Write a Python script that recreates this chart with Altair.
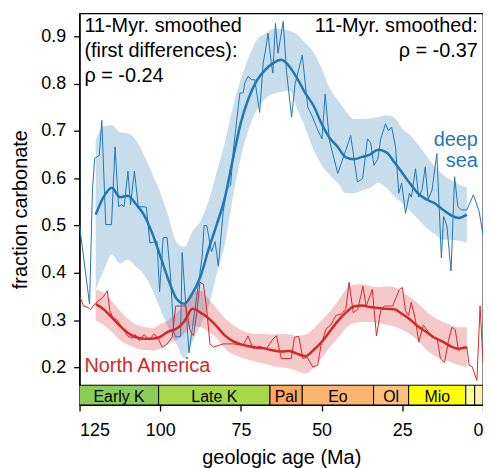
import altair as alt
import pandas as pd

# ---------------- data ----------------
# deep sea raw series (age Ma, fraction carbonate)
ds_age = [125.0, 121.9, 121.0, 120.3, 118.9, 118.1, 116.9, 115.1, 114.0, 112.9, 112.0, 111.2,
          110.0, 109.2, 108.0, 106.8, 104.3, 103.2, 101.0, 100.2, 99.1, 97.9, 96.9, 95.8, 95.3,
          93.7, 93.2, 91.1, 89.1, 87.0, 86.4, 85.6, 84.1, 83.0, 82.0, 80.5, 79.4, 78.2, 77.4,
          75.8, 75.3, 74.3, 73.8, 72.8, 71.7, 70.7, 69.2, 68.1, 67.1, 66.6, 65.6, 65.1, 64.3,
          63.5, 61.9, 60.9, 59.3, 58.2, 56.0, 54.3, 53.0, 51.1, 49.9, 48.9, 47.6, 45.0, 42.5,
          41.0, 38.9, 37.3, 35.8, 34.8, 33.8, 32.6, 31.7, 30.2, 29.3, 28.3, 27.1, 26.1, 25.2,
          24.0, 22.8, 22.2, 20.9, 19.9, 18.9, 17.9, 17.0, 15.8, 14.3, 12.9, 12.2, 11.2, 9.9,
          8.8, 7.8, 6.6, 5.0, 3.0, 1.2, 0.0]
ds_val = [0.50, 0.334, 0.575, 0.642, 0.648, 0.722, 0.502, 0.502, 0.666, 0.540, 0.544, 0.540,
          0.615, 0.544, 0.615, 0.540, 0.539, 0.463, 0.467, 0.360, 0.474, 0.475, 0.400, 0.275, 0.265,
          0.265, 0.443, 0.231, 0.330, 0.435, 0.500, 0.500, 0.445, 0.466, 0.414, 0.529, 0.578, 0.585, 0.655,
          0.753, 0.780, 0.780, 0.801, 0.815, 0.808, 0.808, 0.739, 0.843, 0.882, 0.906, 0.843, 0.822, 0.927,
          0.864, 0.931, 0.827, 0.729, 0.800, 0.860, 0.750, 0.732, 0.700, 0.683, 0.778, 0.680, 0.610, 0.659,
          0.690, 0.592, 0.599, 0.683, 0.675, 0.627, 0.640, 0.683, 0.715, 0.700, 0.708, 0.666, 0.568, 0.590,
          0.526, 0.568, 0.560, 0.620, 0.560, 0.575, 0.624, 0.555, 0.575, 0.652, 0.432, 0.519, 0.500, 0.404,
          0.603, 0.540, 0.533, 0.533, 0.565, 0.530, 0.480]

# North America raw series
na_age = [125.0, 124.5, 123.8, 122.4, 121.6, 120.4, 117.8, 116.4, 115.6, 114.7, 113.3, 111.7,
          110.1, 108.7, 107.8, 106.5, 105.0, 103.4, 101.9, 100.7, 99.4, 97.9, 96.3, 95.2, 93.7,
          92.1, 90.7, 89.7, 88.7, 87.7, 86.6, 85.6, 84.6, 83.5, 80.5, 77.3, 74.3, 72.8, 71.2,
          69.3, 67.1, 65.1, 64.0, 62.5, 59.4, 58.4, 57.1, 55.8, 54.5, 52.7, 51.2, 50.2, 48.6,
          47.1, 45.6, 44.0, 42.5, 41.5, 40.2, 38.8, 37.2, 36.2, 34.3, 33.0, 31.7, 30.6, 29.6,
          28.0, 25.9, 25.0, 24.0, 23.1, 22.2, 20.9, 19.9, 18.5, 16.9, 15.3, 14.2, 13.2, 11.9,
          10.7, 9.6, 8.6, 7.6, 6.8, 6.1, 5.0, 4.3, 3.3, 1.9, 0.9, 0.0]
na_val = [0.345, 0.344, 0.330, 0.327, 0.322, 0.334, 0.348, 0.362, 0.320, 0.306, 0.300, 0.282,
          0.267, 0.262, 0.270, 0.257, 0.270, 0.258, 0.271, 0.262, 0.243, 0.250, 0.264, 0.330, 0.330,
          0.330, 0.277, 0.267, 0.316, 0.380, 0.376, 0.323, 0.250, 0.243, 0.250, 0.250, 0.247, 0.267, 0.240,
          0.245, 0.240, 0.260, 0.267, 0.219, 0.219, 0.264, 0.266, 0.219, 0.222, 0.201, 0.205, 0.247, 0.282,
          0.290, 0.310, 0.313, 0.323, 0.380, 0.316, 0.323, 0.372, 0.330, 0.365, 0.267, 0.320, 0.330, 0.330,
          0.330, 0.365, 0.369, 0.320, 0.310, 0.338, 0.300, 0.254, 0.290, 0.275, 0.264, 0.262, 0.219, 0.211,
          0.257, 0.285, 0.280, 0.236, 0.240, 0.243, 0.243, 0.205, 0.201, 0.173, 0.330, 0.210]

# 11-Myr smoothed series and bands (common age grid)
sm_age = [120, 117.5, 115, 112.5, 110, 107.5, 105, 102.5, 100, 97.5, 95, 92.5, 90, 87.5, 85,
          82.5, 80, 77.5, 75, 72.5, 70, 67.5, 65, 62.5, 60, 57.5, 55, 52.5, 50, 47.5, 45, 42.5,
          40, 37.5, 35, 32.5, 30, 27.5, 25, 22.5, 20, 17.5, 15, 12.5, 10, 7.5, 5]
ds_smooth = [0.523, 0.561, 0.580, 0.560, 0.563, 0.545, 0.522, 0.484, 0.436, 0.386, 0.346, 0.335,
             0.357, 0.393, 0.450, 0.502, 0.558, 0.640, 0.718, 0.771, 0.807, 0.829, 0.843, 0.850,
             0.836, 0.810, 0.779, 0.753, 0.715, 0.685, 0.666, 0.644, 0.640, 0.645, 0.650, 0.660,
             0.655, 0.634, 0.611, 0.588, 0.567, 0.555, 0.547, 0.534, 0.522, 0.516, 0.523]
ds_hi = [0.680, 0.710, 0.712, 0.697, 0.695, 0.680, 0.648, 0.610, 0.570, 0.520, 0.466, 0.455,
         0.488, 0.510, 0.553, 0.613, 0.675, 0.750, 0.810, 0.857, 0.893, 0.905, 0.915, 0.915,
         0.912, 0.903, 0.885, 0.866, 0.832, 0.790, 0.765, 0.742, 0.725, 0.725, 0.726, 0.729,
         0.733, 0.728, 0.705, 0.690, 0.670, 0.647, 0.625, 0.608, 0.596, 0.587, 0.580]
ds_lo = [0.365, 0.405, 0.439, 0.420, 0.428, 0.413, 0.396, 0.365, 0.323, 0.284, 0.250, 0.220,
         0.255, 0.290, 0.330, 0.398, 0.460, 0.560, 0.645, 0.705, 0.745, 0.768, 0.778, 0.782,
         0.785, 0.745, 0.705, 0.660, 0.628, 0.607, 0.590, 0.568, 0.568, 0.574, 0.580, 0.590,
         0.580, 0.562, 0.547, 0.530, 0.513, 0.495, 0.482, 0.470, 0.470, 0.468, 0.463]
na_smooth = [0.334, 0.323, 0.306, 0.288, 0.273, 0.264, 0.261, 0.261, 0.265, 0.276, 0.282, 0.298,
             0.324, 0.316, 0.304, 0.287, 0.268, 0.256, 0.249, 0.245, 0.242, 0.240, 0.236, 0.234,
             0.235, 0.229, 0.224, 0.237, 0.254, 0.276, 0.298, 0.316, 0.329, 0.331, 0.328, 0.326,
             0.324, 0.323, 0.313, 0.301, 0.286, 0.275, 0.263, 0.255, 0.245, 0.240, 0.243]
na_hi = [0.365, 0.358, 0.340, 0.320, 0.303, 0.291, 0.286, 0.283, 0.292, 0.300, 0.315, 0.335,
         0.360, 0.362, 0.345, 0.325, 0.305, 0.290, 0.280, 0.273, 0.271, 0.271, 0.270, 0.271,
         0.270, 0.267, 0.270, 0.282, 0.300, 0.318, 0.340, 0.365, 0.375, 0.376, 0.372, 0.370,
         0.372, 0.370, 0.360, 0.348, 0.335, 0.318, 0.305, 0.297, 0.290, 0.285, 0.285]
na_lo = [0.300, 0.290, 0.275, 0.258, 0.248, 0.241, 0.237, 0.236, 0.240, 0.250, 0.258, 0.272,
         0.288, 0.285, 0.275, 0.262, 0.240, 0.228, 0.222, 0.216, 0.212, 0.208, 0.203, 0.200,
         0.198, 0.192, 0.187, 0.200, 0.220, 0.243, 0.262, 0.283, 0.294, 0.296, 0.296, 0.294,
         0.290, 0.287, 0.280, 0.270, 0.256, 0.237, 0.225, 0.217, 0.212, 0.205, 0.201]

# geologic time scale
geo_name = ["Early K", "Late K", "Pal", "Eo", "Ol", "Mio", "", ""]
geo_start = [145.0, 100.5, 66.0, 56.0, 33.9, 23.03, 5.33, 2.58]
geo_end = [100.5, 66.0, 56.0, 33.9, 23.03, 5.33, 2.58, 0.0]
geo_color = ["#8CCD57", "#A6D84A", "#FDA75F", "#FDB46C", "#FDC07A", "#FFFF00", "#FFFF99", "#FFF2AE"]
geo_label_age = [112.75, 83.25, 61.0, 44.95, 28.47, 14.18, None, None]

# ---------------- frames ----------------
ds_raw = pd.DataFrame({"age": ds_age, "v": ds_val})
na_raw = pd.DataFrame({"age": na_age, "v": na_val})
sm = pd.DataFrame({"age": sm_age, "ds": ds_smooth, "ds_hi": ds_hi, "ds_lo": ds_lo,
                   "na": na_smooth, "na_hi": na_hi, "na_lo": na_lo})
geo = pd.DataFrame({"name": geo_name, "start": geo_start, "end": geo_end, "color": geo_color,
                    "lab": geo_label_age})

BLUE = "#1f77b4"
RED = "#d62728"
FONT = "Liberation Sans"
YMIN, YMAX = 0.121, 0.948
BAR_TOP = 0.1627

xs = alt.Scale(domain=[125, 0], nice=False, zero=False)
ys = alt.Scale(domain=[YMIN, YMAX], nice=False, zero=False)
XAX = alt.Axis(values=[125, 100, 75, 50, 25, 0], title="geologic age (Ma)", format="d")
YAX = alt.Axis(values=[0.2, 0.3, 0.4, 0.5, 0.6, 0.7, 0.8, 0.9], title="fraction carbonate",
               format=".1f")


def X(field):
    return alt.X(field, scale=xs, axis=XAX)


def Y(field):
    return alt.Y(field, scale=ys, axis=YAX)


base_sm = alt.Chart(sm)

ds_band = base_sm.mark_area(color=BLUE, opacity=0.25, interpolate="monotone").encode(
    x=X("age:Q"), y=Y("ds_lo:Q"), y2="ds_hi:Q")
na_band = base_sm.mark_area(color=RED, opacity=0.25, interpolate="monotone").encode(
    x=X("age:Q"), y=Y("na_lo:Q"), y2="na_hi:Q")

ds_line = alt.Chart(ds_raw).mark_line(color=BLUE, strokeWidth=1).encode(x=X("age:Q"), y=Y("v:Q"))
na_line = alt.Chart(na_raw).mark_line(color=RED, strokeWidth=1).encode(x=X("age:Q"), y=Y("v:Q"))

ds_sm = base_sm.mark_line(color=BLUE, strokeWidth=2.5, interpolate="monotone").encode(
    x=X("age:Q"), y=Y("ds:Q"))
na_sm = base_sm.mark_line(color=RED, strokeWidth=2.5, interpolate="monotone").encode(
    x=X("age:Q"), y=Y("na:Q"))

geo_rect = alt.Chart(geo).mark_rect(stroke="black", strokeWidth=1, clip=True).encode(
    x=X("start:Q"), x2="end:Q",
    y=alt.datum(YMIN, scale=ys, axis=YAX), y2=alt.datum(BAR_TOP),
    color=alt.Color("color:N", scale=None))
geo_text = alt.Chart(geo).transform_filter("datum.lab != null").mark_text(
    font=FONT, fontSize=16, color="black", baseline="middle", dy=2).encode(
    x=X("lab:Q"),
    y=alt.datum((YMIN + BAR_TOP) / 2, scale=ys, axis=YAX),
    text="name:N")


def label(txt, age, val, color="black", align="left"):
    return alt.Chart(pd.DataFrame({"t": [txt]})).mark_text(
        font=FONT, fontSize=20, color=color, align=align, baseline="alphabetic").encode(
        x=alt.datum(age, scale=xs, axis=XAX), y=alt.datum(val, scale=ys, axis=YAX), text="t:N")


labels = [
    label("11-Myr. smoothed", 123.5, 0.909),
    label("(first differences):", 123.5, 0.857),
    label("ρ = -0.24", 123.5, 0.803),
    label("11-Myr. smoothed:", 1.6, 0.909, align="right"),
    label("ρ = -0.37", 1.6, 0.856, align="right"),
    label("deep", 1.6, 0.6675, color=BLUE, align="right"),
    label("sea", 1.6, 0.6234, color=BLUE, align="right"),
    label("North America", 123.5, 0.1896, color=RED),
]

chart = alt.layer(ds_band, na_band, ds_line, na_line, ds_sm, na_sm, geo_rect, geo_text,
                  *labels).properties(
    width=406, height=394, autosize="none",
    padding={"left": 72, "top": 4, "right": 0, "bottom": 70},
).configure_view(stroke="black", strokeWidth=1.3).configure_axis(
    labelFont=FONT, titleFont=FONT, labelFontSize=18, titleFontSize=20,
    titleFontWeight="normal", labelColor="black", titleColor="black",
    domainColor="black", tickColor="black", tickSize=6, domainWidth=1.3, tickWidth=1.3,
    grid=False,
).configure_axisY(labelPadding=8, titlePadding=10).configure_axisX(labelPadding=11, titlePadding=8)

chart.save("out.html", embed_options={"renderer": "svg", "actions": False})
